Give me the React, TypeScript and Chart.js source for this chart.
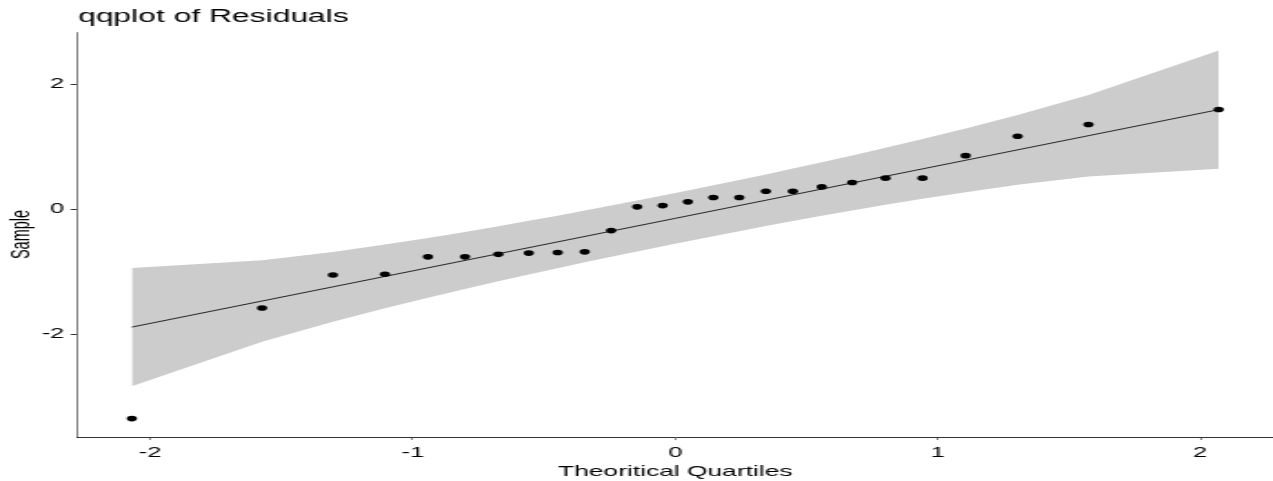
import React, { useEffect, useRef } from "react";
import { Chart, registerables } from "chart.js";

Chart.register(...registerables);

// Theoretical normal quantiles (x) and sorted residuals (y)
const theoretical = [-2.070, -1.574, -1.304, -1.106, -0.942, -0.801, -0.674, -0.558, -0.448, -0.345, -0.244, -0.145, -0.048, 0.048, 0.145, 0.244, 0.345, 0.448, 0.558, 0.674, 0.801, 0.942, 1.106, 1.304, 1.574, 2.070];
const sample = [-3.35, -1.58, -1.05, -1.04, -0.76, -0.76, -0.72, -0.70, -0.69, -0.68, -0.34, 0.04, 0.06, 0.12, 0.19, 0.19, 0.29, 0.29, 0.36, 0.43, 0.50, 0.50, 0.86, 1.17, 1.36, 1.60];

// Confidence band (lower / upper) at each theoretical quantile
const bandLower = [-2.833, -2.120, -1.800, -1.584, -1.414, -1.274, -1.151, -1.042, -0.941, -0.848, -0.759, -0.673, -0.589, -0.509, -0.429, -0.349, -0.268, -0.187, -0.104, -0.017, 0.074, 0.170, 0.276, 0.394, 0.528, 0.649];
const bandUpper = [-0.937, -0.816, -0.682, -0.564, -0.458, -0.362, -0.271, -0.184, -0.101, -0.020, 0.061, 0.141, 0.221, 0.301, 0.385, 0.471, 0.560, 0.653, 0.754, 0.863, 0.986, 1.126, 1.296, 1.512, 1.832, 2.545];

// Reference line endpoints
const lineX = [-2.070, 2.070];
const lineY = [-1.885, 1.597];

// Tick labels
const xTicks = [-2, -1, 0, 1, 2];
const yTicks = [-2, 0, 2];

const TITLE = "qqplot of Residuals";
const FAMILY = "'Liberation Sans', Arial, sans-serif";

const titlePlugin = {
  id: "plotTitle",
  afterDraw(chart: any) {
    const ctx = chart.ctx;
    ctx.save();
    ctx.fillStyle = "#000";
    ctx.font = `17.5px ${FAMILY}`;
    ctx.textAlign = "left";
    ctx.textBaseline = "alphabetic";
    ctx.fillText(TITLE, chart.chartArea.left + 0.3, 22.3);
    ctx.restore();
  },
};

export default function App() {
  const canvasRef = useRef<HTMLCanvasElement | null>(null);

  useEffect(() => {
    const canvas = canvasRef.current;
    if (!canvas) return;
    const toXY = (xs: number[], ys: number[]) => xs.map((x, i) => ({ x, y: ys[i] }));

    const chart = new Chart(canvas, {
      type: "scatter",
      data: {
        datasets: [
          {
            label: "points",
            data: toXY(theoretical, sample),
            pointStyle: "circle",
            pointRadius: 2.8,
            pointHoverRadius: 2.8,
            backgroundColor: "#000",
            borderWidth: 0,
            order: 0,
          },
          {
            label: "line",
            data: toXY(lineX, lineY),
            showLine: true,
            pointRadius: 0,
            borderColor: "#111",
            borderWidth: 0.9,
            fill: false,
            order: 1,
          },
          {
            label: "lower",
            data: toXY(theoretical, bandLower),
            showLine: true,
            pointRadius: 0,
            borderWidth: 0,
            borderColor: "rgba(0,0,0,0)",
            fill: false,
            order: 3,
          },
          {
            label: "upper",
            data: toXY(theoretical, bandUpper),
            showLine: true,
            pointRadius: 0,
            borderWidth: 0,
            borderColor: "rgba(0,0,0,0)",
            backgroundColor: "rgb(204,204,204)",
            fill: 2,
            order: 2,
          },
        ],
      },
      options: {
        animation: false,
        responsive: false,
        devicePixelRatio: 1,
        events: [],
        layout: { autoPadding: false, padding: { left: 0, right: 0, top: 32, bottom: 0 } },
        plugins: {
          legend: { display: false },
          tooltip: { enabled: false },
          title: { display: false },
        },
        scales: {
          x: {
            type: "linear",
            min: -2.277,
            max: 2.277,
            afterFit: (s: any) => {
              s.height = 44;
              s.paddingLeft = 0;
              s.paddingRight = 0;
            },
            afterBuildTicks: (s: any) => {
              s.ticks = xTicks.map((v) => ({ value: v }));
            },
            ticks: {
              color: "#000",
              font: { family: FAMILY, size: 14 },
              padding: 4.4,
              maxRotation: 0,
              autoSkip: false,
              callback: (v: any) => String(v),
            },
            grid: {
              display: true,
              drawOnChartArea: false,
              drawTicks: true,
              tickLength: 3,
              color: "#333",
              lineWidth: 0.6,
            },
            border: { display: true, color: "#333", width: 1 },
            title: {
              display: true,
              text: "Theoritical Quartiles",
              color: "#000",
              font: { family: FAMILY, size: 14.5 },
              padding: { top: 0, bottom: 0 },
            },
          },
          y: {
            type: "linear",
            min: -3.645,
            max: 2.84,
            afterFit: (s: any) => {
              s.width = 42.6;
              s.paddingTop = 0;
              s.paddingBottom = 0;
            },
            afterBuildTicks: (s: any) => {
              s.ticks = yTicks.map((v) => ({ value: v }));
            },
            ticks: {
              color: "#000",
              font: { family: FAMILY, size: 14 },
              padding: 3.4,
              autoSkip: false,
              callback: (v: any) => String(v),
            },
            grid: {
              display: true,
              drawOnChartArea: false,
              drawTicks: true,
              tickLength: 3.8,
              color: "#333",
              lineWidth: 1,
            },
            border: { display: true, color: "#333", width: 0.6 },
            title: {
              display: true,
              text: "Sample",
              color: "#000",
              font: { family: FAMILY, size: 14.5 },
              padding: { top: 3.7, bottom: 0 },
            },
          },
        },
      },
      plugins: [titlePlugin],
    } as any);

    return () => {
      chart.destroy();
    };
  }, []);

  return (
    <div style={{ position: "absolute", left: 0, top: 0, width: 1273, height: 481, overflow: "hidden", background: "#fff" }}>
      <canvas
        ref={canvasRef}
        width={700}
        height={481}
        style={{ width: "1273px", height: "481px", display: "block" }}
      />
    </div>
  );
}
